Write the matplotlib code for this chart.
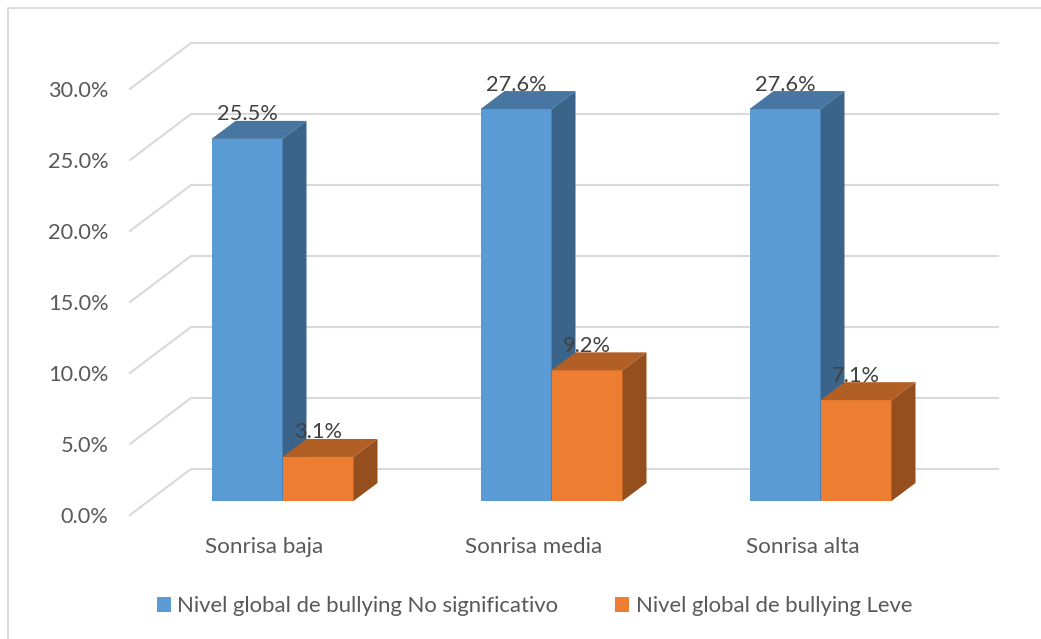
import matplotlib
matplotlib.use("Agg")
import matplotlib.pyplot as plt
from matplotlib.lines import Line2D
from matplotlib.patches import Patch, Polygon

plt.rcParams['font.family'] = ['Lato', 'DejaVu Sans']

# datos
categorias = ['Sonrisa baja', 'Sonrisa media', 'Sonrisa alta']
no_significativo = [25.5, 27.6, 27.6]
leve = [3.1, 9.2, 7.1]
ticks_y = [0, 5, 10, 15, 20, 25, 30]
nombre_serie1 = 'Nivel global de bullying No significativo'
nombre_serie2 = 'Nivel global de bullying Leve'

W, H = 1041, 639
fig = plt.figure(figsize=(W / 100, H / 100), dpi=100)

# marco gris del grafico (solo arriba e izquierda)
fig.add_artist(Line2D([8 / W, 8 / W, 1], [0, 1 - 8 / H, 1 - 8 / H], color='#d9d9d9', lw=1.3))

# ejes en el plano frontal, en pixeles: x 130-937, y 515-89
ax = fig.add_axes([130 / W, 1 - 515 / H, 807 / W, 426 / H])
ax.set_xlim(-0.5, 2.5)
ax.set_ylim(0, 30)
ax.patch.set_visible(False)
for s in ax.spines.values():
    s.set_visible(False)

px_x = 3 / 807   # unidades x por pixel
px_y = 30 / 426  # unidades y por pixel

# pared del fondo
prof_x = 61 * px_x
prof_y = 46 * px_y
for t in ticks_y:
    ax.plot([-0.5, -0.5 + prof_x, 2.5 + prof_x], [t, t + prof_y, t + prof_y],
            color='#d9d9d9', lw=1.5, clip_on=False, zorder=1, solid_joinstyle='miter')

# barras "3D"
ancho = 71 * px_x
dx = 24 * px_x
dy = 18 * px_y
base = 14 * px_y
desp = 18 * px_x  # centro del grupo respecto a la etiqueta


def barra(x0, valor, frente, arriba, lado):
    ax.bar(x0, valor, ancho, bottom=base, align='edge', color=frente, zorder=3, clip_on=False)
    x1 = x0 + ancho
    y1 = base + valor
    ax.add_patch(Polygon([(x0, y1), (x1, y1), (x1 + dx, y1 + dy), (x0 + dx, y1 + dy)],
                         closed=True, fc=arriba, ec='none', zorder=3, clip_on=False))
    ax.add_patch(Polygon([(x1, base), (x1 + dx, base + dy), (x1 + dx, y1 + dy), (x1, y1)],
                         closed=True, fc=lado, ec='none', zorder=3, clip_on=False))
    ax.annotate(f'{valor:.1f}%', (x0 + ancho / 2, y1), xytext=(0, 24.5 / 100 * 72),
                textcoords='offset points', ha='center', va='center',
                fontsize=15.7, color='#404040', zorder=6, annotation_clip=False)


for i in range(len(categorias)):
    barra(i + desp - ancho, no_significativo[i], '#5b9bd5', '#4676a1', '#3a6489')
    barra(i + desp, leve[i], '#ed7d31', '#b25f25', '#954f1f')

ax.set_yticks(ticks_y)
ax.set_yticklabels([f'{t:.1f}%' for t in ticks_y])
ax.set_xticks(range(len(categorias)))
ax.set_xticklabels(categorias)
ax.tick_params(axis='y', length=0, pad=15.5, labelsize=15.7, labelcolor='#595959')
ax.tick_params(axis='x', length=0, pad=15.5, labelsize=16.1, labelcolor='#595959')

handles = [Patch(fc='#5b9bd5', label=nombre_serie1), Patch(fc='#ed7d31', label=nombre_serie2)]
fig.legend(handles=handles, loc='center', bbox_to_anchor=(534.5 / W, 1 - 606 / H), ncol=2,
           frameon=False, fontsize=15.9, labelcolor='#595959', handlelength=0.64, handleheight=0.64,
           handletextpad=0.28, columnspacing=2.57, borderpad=0, borderaxespad=0)

fig.savefig('out.png', dpi=100)
